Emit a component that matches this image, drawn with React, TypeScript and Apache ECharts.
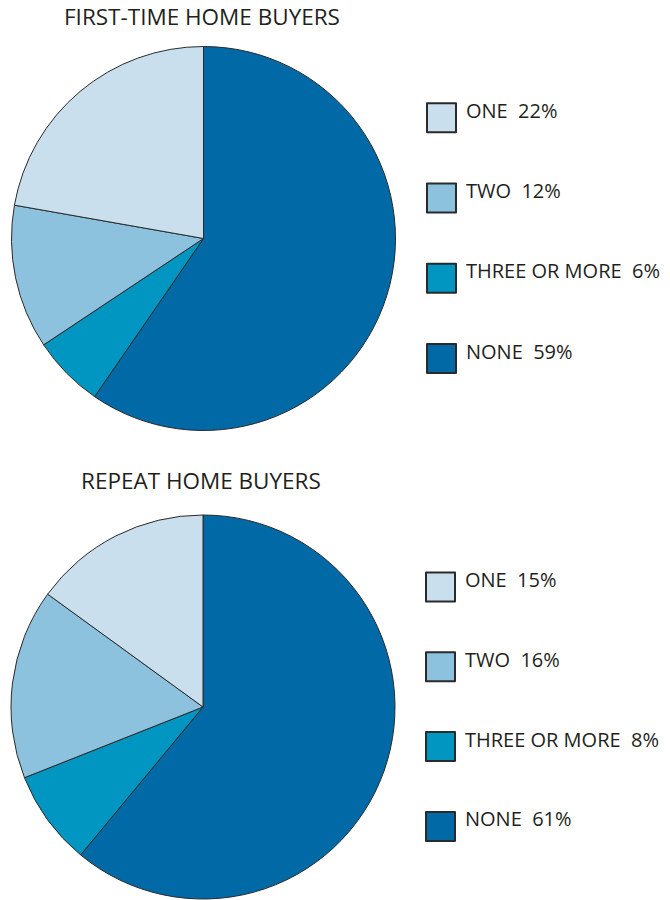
import React, { useEffect, useRef } from "react";
import * as echarts from "echarts";

const categories = ["ONE", "TWO", "THREE OR MORE", "NONE"];
const firstTimeValues = [22, 12, 6, 59];
const repeatValues = [15, 16, 8, 61];
const titles = ["FIRST-TIME HOME BUYERS", "REPEAT HOME BUYERS"];
const colors: Record<string, string> = {
  ONE: "#c9dfed",
  TWO: "#8cc2de",
  "THREE OR MORE": "#0096c1",
  NONE: "#0069a6",
};
// drawing order around the pie (clockwise from 12 o'clock)
const pieOrder = ["NONE", "THREE OR MORE", "TWO", "ONE"];

const FONT = "'Open Sans', 'Noto Sans', sans-serif";
const TEXT = "#231f20";

function pieData(values: number[]) {
  return pieOrder.map((name) => ({
    name,
    value: values[categories.indexOf(name)],
    itemStyle: { color: colors[name] },
  }));
}

export default function App() {
  const ref = useRef<HTMLDivElement>(null);
  useEffect(() => {
    if (!ref.current) return;
    const chart = echarts.init(ref.current, null, { renderer: "svg" });
    // trailing newline lifts the label so it sits toward the top of the swatch
    const fmt = (values: number[]) => (name: string) =>
      `${name}  ${values[categories.indexOf(name)]}%\n`;
    const legendBase = {
      orient: "vertical" as const,
      padding: 0,
      itemWidth: 29,
      itemHeight: 29,
      icon: "rect",
      selectedMode: false,
      data: categories,
      textStyle: {
        fontFamily: FONT,
        fontSize: 20,
        lineHeight: 15,
        color: TEXT,
        padding: [0, 0, 0, 5],
      },
    };
    const titleStyle = { fontFamily: FONT, fontSize: 22.5, fontWeight: "normal", color: TEXT };
    chart.setOption({
      animation: false,
      backgroundColor: "#ffffff",
      title: [
        { text: titles[0], left: 64, top: 5, padding: 0, textStyle: titleStyle },
        { text: titles[1], left: 81, top: 469, padding: 0, textStyle: titleStyle },
      ],
      legend: [
        { ...legendBase, left: 426, top: 100.2, itemGap: 45.3, seriesIndex: 0, formatter: fmt(firstTimeValues) },
        { ...legendBase, left: 425, top: 569.5, itemGap: 44.8, seriesIndex: 1, formatter: fmt(repeatValues) },
      ],
      series: [
        {
          type: "pie",
          center: [203.5, 238.5],
          radius: 192,
          startAngle: 90,
          clockwise: true,
          label: { show: false },
          labelLine: { show: false },
          emphasis: { disabled: true },
          itemStyle: { borderColor: "#2a2a2a", borderWidth: 1 },
          data: pieData(firstTimeValues),
        },
        {
          type: "pie",
          center: [203, 707],
          radius: 192,
          startAngle: 90,
          clockwise: true,
          label: { show: false },
          labelLine: { show: false },
          emphasis: { disabled: true },
          itemStyle: { borderColor: "#2a2a2a", borderWidth: 1 },
          data: pieData(repeatValues),
        },
      ],
    });
    return () => chart.dispose();
  }, []);
  return (
    <div
      ref={ref}
      style={{ position: "absolute", left: 0, top: 0, width: 670, height: 900 }}
    />
  );
}
